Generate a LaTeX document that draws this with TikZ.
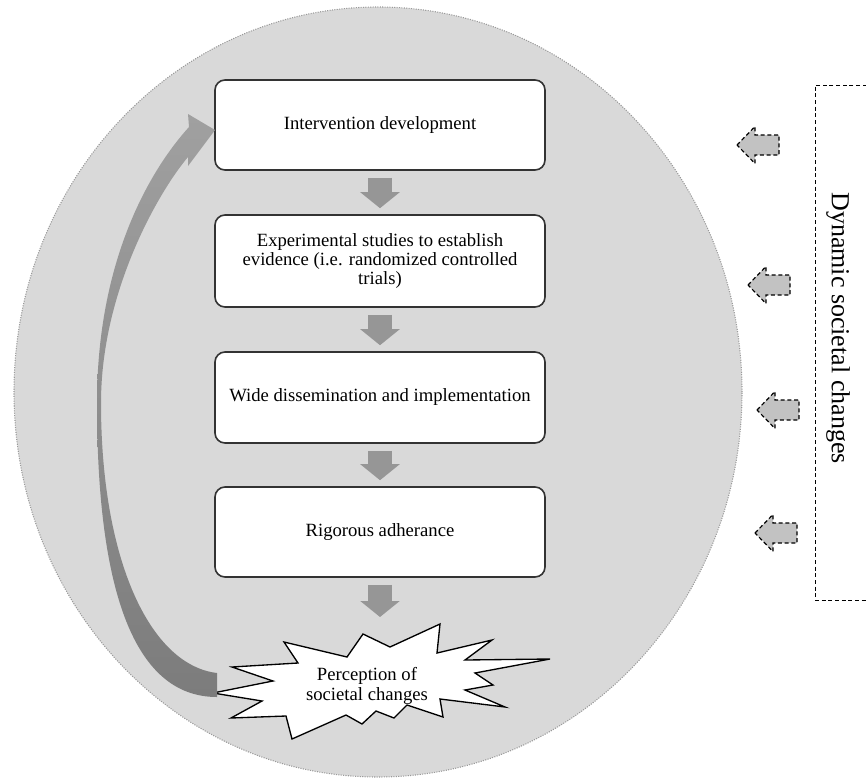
\documentclass[tikz,border=0pt]{standalone}
\usepackage{fontspec}
\setmainfont{Liberation Serif}
\usetikzlibrary{arrows.meta}
\definecolor{bgfill}{HTML}{D9D9D9}
\definecolor{bgline}{HTML}{9A9A9A}
\definecolor{blockcol}{HTML}{969696}
\definecolor{boxline}{HTML}{333333}
\definecolor{smallfill}{HTML}{C2C2C2}
\definecolor{arrtop}{HTML}{A0A0A0}
\definecolor{arrmid}{HTML}{B2B2B2}
\definecolor{arrbot}{HTML}{7C7C7C}
\begin{document}
\begin{tikzpicture}[x=0.75pt,y=-0.75pt,
  stepbox/.style={draw=boxline, line width=1.2pt, fill=white, rounded corners=7.5pt,
    minimum width=247.5pt, align=center, inner sep=0pt,
    font=\fontsize{14}{14.6}\selectfont},
  flow/.style={draw=blockcol, line width=18pt,
    -{Triangle[width=29pt,length=12pt]}, shorten <=5.25pt, shorten >=4.5pt},
  smallarr/.style={draw=black, fill=smallfill, line width=0.9pt,
    dash pattern=on 3pt off 2pt, line join=miter},
  pics/leftarr/.style={code={
    \draw[smallarr] (0,0) -- (18,-18.5) -- (18,-10) -- (42,-10) -- (42,10) -- (18,10) -- (18,18.5) -- cycle;}}
]
\useasboundingbox (0,0) rectangle (866,778);
\clip (0,0) rectangle (866,778);

% big ellipse
\draw[fill=bgfill, draw=bgline, line width=0.8pt, densely dotted]
  (378,392) ellipse [x radius=273pt, y radius=288.75pt];

% boxes
\node[stepbox, minimum height=67.5pt] (b1) at (380,125) {Intervention development};
\node[stepbox, minimum height=69pt] (b2) at (380,261)
  {Experimental studies to establish\\evidence (i.e. randomized controlled\\trials)};
\node[stepbox, minimum height=68.25pt] (b3) at (380,397.5) {Wide dissemination and implementation};
\node[stepbox, minimum height=67.5pt] (b4) at (380,532) {Rigorous adherance};

% star burst
\draw[fill=white, draw=black, line width=1pt, line join=miter]
  (440,624) -- (437,653) -- (492,640) -- (465,660) -- (550,659) -- (475,673)
  -- (493,685) -- (465,690) -- (505,707) -- (440,699) -- (443,717) -- (407,705)
  -- (394,718) -- (376,711) -- (362,724) -- (346,715) -- (292,739) -- (286,716)
  -- (231,718) -- (262,701) -- (213,693) -- (273,681) -- (232,667) -- (298,663)
  -- (284,642) -- (347,657) -- (363,634) -- (390,647) -- cycle;
\node[align=center, inner sep=0pt, font=\fontsize{14}{15}\selectfont] (star) at (367,686)
  {Perception of\\societal changes};

% block arrows between steps
\coordinate (stop) at (380,623);
\draw[flow] (b1.south) -- (b2.north);
\draw[flow] (b2.south) -- (b3.north);
\draw[flow] (b3.south) -- (b4.north);
\draw[flow] (b4.south) -- (stop);

% curved feedback arrow (star -> intervention development)
\shade[top color=arrtop, middle color=arrmid, bottom color=arrbot]
  (189,127) .. controls (150,170) and (97,260) .. (97,403)
  .. controls (97,580) and (130,697) .. (217,697)
  -- (217,673) .. controls (150,665) and (101,560) .. (101,403)
  .. controls (101,290) and (160,190) .. (188,157)
  -- (188,166) -- (215,130) -- (188,114) -- cycle;

% dynamic societal changes
\draw[line width=0.7pt, dash pattern=on 3pt off 2pt] (880,85) -- (815,85) -- (815,600) -- (880,600);
\node[rotate=-90, inner sep=0pt, font=\fontsize{19.5}{20}\selectfont] (dyn) at (838,328) {Dynamic societal changes};

\pic at (737,145) {leftarr};
\pic at (748,285) {leftarr};
\pic at (757,410) {leftarr};
\pic at (755,533) {leftarr};
\end{tikzpicture}
\end{document}
